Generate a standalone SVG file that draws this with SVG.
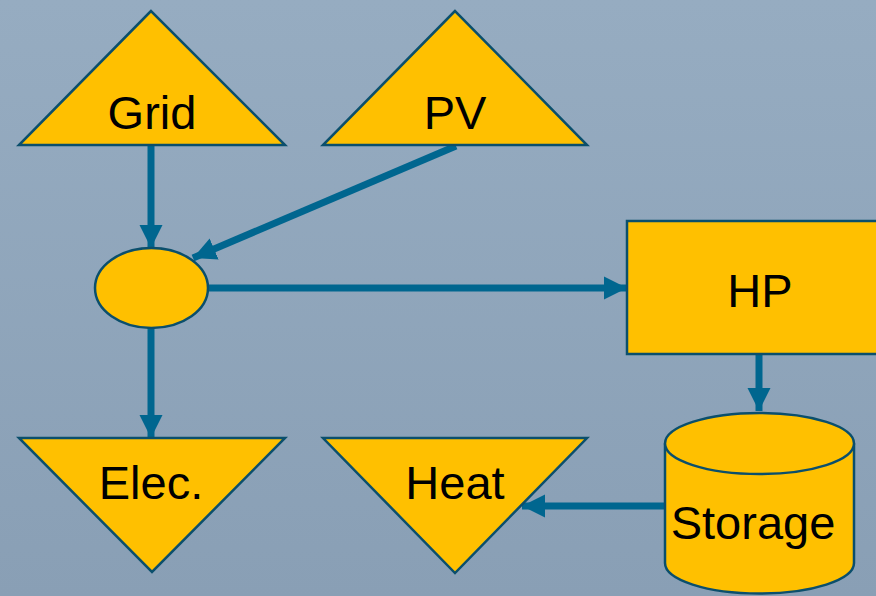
<svg xmlns="http://www.w3.org/2000/svg" width="876" height="596" viewBox="0 0 876 596">
<defs>
<linearGradient id="bg" x1="0" y1="0" x2="0" y2="1">
<stop offset="0" stop-color="#96acc1"/>
<stop offset="1" stop-color="#899fb5"/>
</linearGradient>
<marker id="ah" markerUnits="userSpaceOnUse" markerWidth="24" markerHeight="24" viewBox="0 0 24 24" refX="23" refY="12" orient="auto">
<path d="M0,0.5 L23,12 L0,23.5 Z" fill="#00668f"/>
</marker>
<style>
.shape{fill:#ffc000;stroke:#0b4f6c;stroke-width:2.5}
.lbl{font-family:"Liberation Sans",Arial,sans-serif;font-size:47px;fill:#000;text-anchor:middle}
.conn{stroke:#00668f;stroke-width:7;fill:none;marker-end:url(#ah)}
</style>
</defs>
<rect width="876" height="596" fill="url(#bg)"/>
<g id="connectors">
<line class="conn" x1="151" y1="145" x2="151" y2="248"/>
<line class="conn" x1="456" y1="146" x2="193" y2="258"/>
<line class="conn" x1="208" y1="288" x2="627" y2="288"/>
<line class="conn" x1="151" y1="328" x2="151" y2="438"/>
<line class="conn" x1="759" y1="354" x2="759" y2="411"/>
<line class="conn" x1="665" y1="506" x2="522" y2="506"/>
</g>
<g id="grid">
<polygon class="shape" points="151,11 19,145 285,145"/>
<text class="lbl" x="152" y="129">Grid</text>
</g>
<g id="pv">
<polygon class="shape" points="455,11 323,145 587,145"/>
<text class="lbl" x="455" y="129">PV</text>
</g>
<g id="junction">
<ellipse class="shape" cx="151.5" cy="288" rx="56.5" ry="40"/>
</g>
<g id="hp">
<rect class="shape" x="627" y="221" width="260" height="133"/>
<text class="lbl" x="760" y="307">HP</text>
</g>
<g id="elec">
<polygon class="shape" points="19,438 285,438 152,572"/>
<text class="lbl" x="151" y="499">Elec.</text>
</g>
<g id="heat">
<polygon class="shape" points="323,438 587,438 455,573"/>
<text class="lbl" x="455" y="499">Heat</text>
</g>
<g id="storage">
<path class="shape" d="M665,443.5 L665,563 A94.5,30.5 0 0 0 854,563 L854,443.5"/>
<ellipse class="shape" cx="759.5" cy="443.5" rx="94.5" ry="30.5"/>
<text class="lbl" x="753" y="539">Storage</text>
</g>
</svg>
